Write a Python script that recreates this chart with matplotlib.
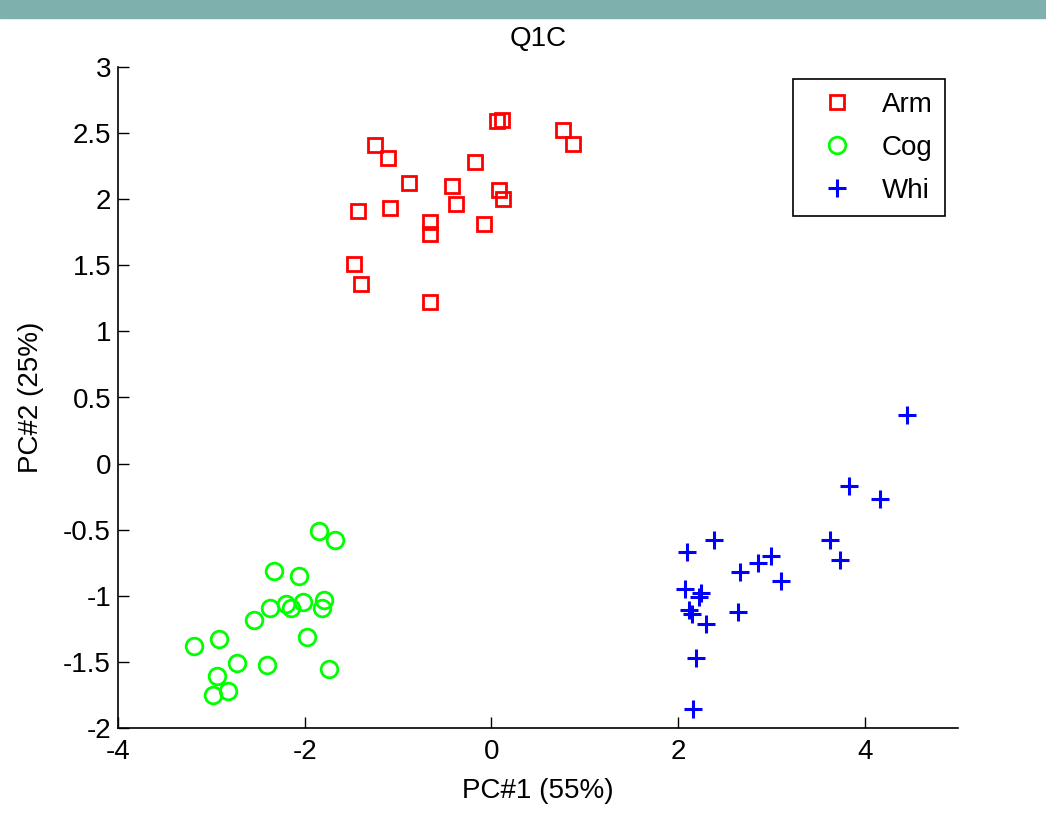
import matplotlib
matplotlib.use("Agg")
import matplotlib.pyplot as plt
from matplotlib.patches import Rectangle

plt.rcParams['font.family'] = ['Liberation Sans', 'DejaVu Sans']

# PCA scores
arm_x = [-1.25, -1.11, -0.88, -0.17, 0.06, 0.11, 0.77, 0.88, -0.42, -0.38,
         0.08, 0.12, -1.43, -1.09, -0.66, -0.66, -0.08, -1.47, -1.40, -0.66]
arm_y = [2.41, 2.31, 2.12, 2.28, 2.59, 2.60, 2.52, 2.42, 2.10, 1.96,
         2.07, 2.00, 1.91, 1.93, 1.83, 1.74, 1.81, 1.51, 1.36, 1.22]

cog_x = [-1.85, -1.67, -2.33, -2.06, -1.79, -1.81, -2.02, -2.20, -2.15, -2.37,
         -2.54, -1.97, -2.92, -3.19, -2.72, -2.40, -1.74, -2.94, -2.82, -2.98]
cog_y = [-0.51, -0.58, -0.81, -0.85, -1.03, -1.09, -1.05, -1.06, -1.09, -1.09,
         -1.18, -1.31, -1.33, -1.38, -1.51, -1.52, -1.55, -1.61, -1.72, -1.75]

whi_x = [4.45, 3.83, 4.16, 2.39, 2.10, 3.63, 3.74, 3.00, 2.86, 2.66,
         3.10, 2.07, 2.25, 2.23, 2.12, 2.15, 2.64, 2.30, 2.19, 2.16]
whi_y = [0.37, -0.17, -0.27, -0.58, -0.67, -0.58, -0.73, -0.70, -0.75, -0.82,
         -0.89, -0.95, -0.98, -1.01, -1.11, -1.14, -1.12, -1.21, -1.47, -1.86]

xticks = [-4, -2, 0, 2, 4]
yticks = [-2, -1.5, -1, -0.5, 0, 0.5, 1, 1.5, 2, 2.5, 3]

FS = 20

fig = plt.figure(figsize=(10.46, 8.13), dpi=100)
# screenshot band along the top edge
fig.add_artist(Rectangle((0, 1 - 18 / 813), 1, 18 / 813, transform=fig.transFigure,
                         color="#7eb0ae", zorder=0))

ax = fig.add_axes([118 / 1046, 1 - 728 / 813, 840 / 1046, 661 / 813])

ax.plot(arm_x, arm_y, 's', ms=10, mfc='none', mec='#ff0000', mew=2, label='Arm')
ax.plot(cog_x, cog_y, 'o', ms=12, mfc='none', mec='#00ff00', mew=2, label='Cog')
ax.plot(whi_x, whi_y, '+', ms=13, mec='#0000ff', mew=2.2, label='Whi')

ax.set_xlim(-4, 5)
ax.set_ylim(-2, 3)
ax.set_xticks(xticks)
ax.set_xticklabels([f'{t:g}' for t in xticks])
ax.set_yticks(yticks)
ax.set_yticklabels([f'{t:g}' for t in yticks])
ax.tick_params(direction='in', length=8, width=1, labelsize=FS)
ax.tick_params(axis='y', pad=5)
ax.tick_params(axis='x', pad=8)
for s in ('top', 'right'):
    ax.spines[s].set_visible(False)
for s in ('left', 'bottom'):
    ax.spines[s].set_linewidth(1.2)

ax.set_title('Q1C', fontsize=FS, pad=15)
ax.set_xlabel('PC#1 (55%)', fontsize=FS, labelpad=9)
ax.set_ylabel('PC#2 (25%)', fontsize=FS, labelpad=14)

leg = ax.legend(loc='upper right', bbox_to_anchor=(945 / 1046, 1 - 79 / 813),
                bbox_transform=fig.transFigure, fontsize=FS, fancybox=False,
                framealpha=1, edgecolor='black', borderpad=0.45,
                handlelength=2.3, handletextpad=0.45, labelspacing=0.62,
                borderaxespad=0)
leg.get_frame().set_linewidth(1.2)

fig.savefig('out.png', dpi=100)
